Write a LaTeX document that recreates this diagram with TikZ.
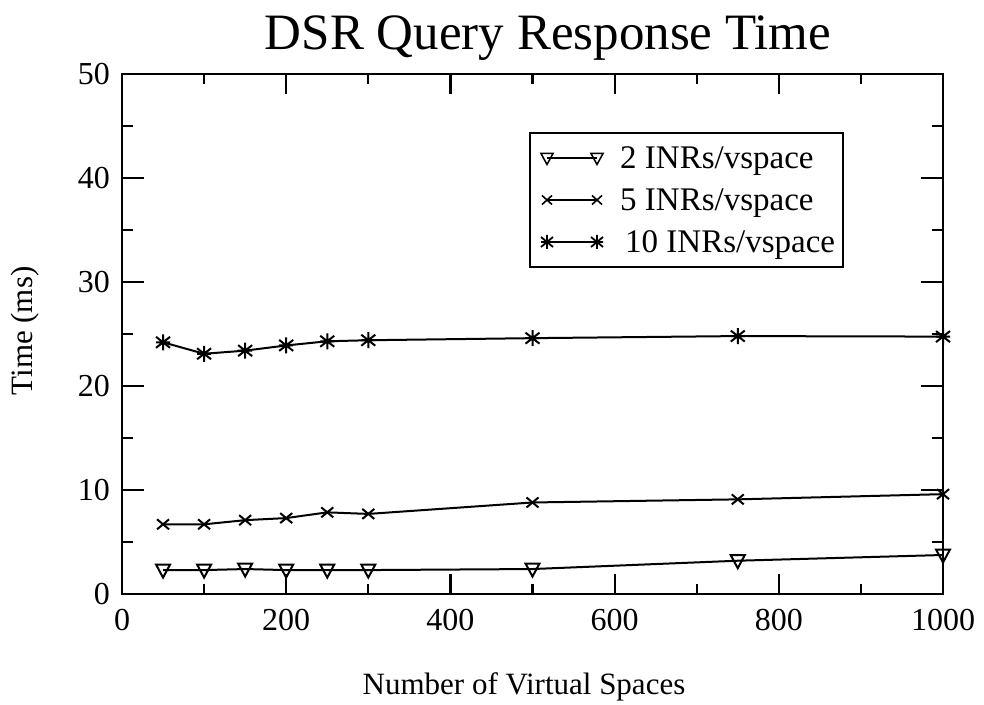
\documentclass[tikz,border=0pt]{standalone}
\usepackage{fontspec}
\setmainfont{Liberation Serif}
\begin{document}
\begin{tikzpicture}[x=1pt,y=1pt,
  axisline/.style={line width=2.6pt},
  tickline/.style={line width=2.2pt},
  dataline/.style={line width=2pt},
  markline/.style={line width=2pt},
  ticklab/.style={font=\fontsize{32}{32}\selectfont, inner sep=0pt},
  axlab/.style={font=\fontsize{31}{31}\selectfont, inner sep=0pt},
  leglab/.style={font=\fontsize{33}{33}\selectfont, inner sep=0pt, anchor=base west},
  tri/.pic={\draw[markline] (-7pt,5.5pt) -- (7pt,5.5pt) -- (0pt,-7.5pt) -- cycle;},
  crs/.pic={\draw[markline] (-6pt,-5pt) -- (6pt,5pt) (-6pt,5pt) -- (6pt,-5pt);},
  astr/.pic={\draw[markline] (0pt,-8pt) -- (0pt,8pt) (-7pt,-5.5pt) -- (7pt,5.5pt) (-7pt,5.5pt) -- (7pt,-5.5pt) (-7pt,0pt) -- (7pt,0pt);},
  ltri/.pic={\draw[line width=1.5pt] (-6pt,4.5pt) -- (6pt,4.5pt) -- (0pt,-6.5pt) -- cycle;},
  lcrs/.pic={\draw[line width=1.6pt] (-5pt,-4.5pt) -- (5pt,4.5pt) (-5pt,4.5pt) -- (5pt,-4.5pt);},
  lastr/.pic={\draw[line width=1.8pt] (0pt,-7pt) -- (0pt,7pt) (-6pt,-5pt) -- (6pt,5pt) (-6pt,5pt) -- (6pt,-5pt) (-6pt,0pt) -- (6pt,0pt);}
]
\useasboundingbox (0,0) rectangle (984,704);
% title
\node[font=\fontsize{51}{51}\selectfont, inner sep=0pt, anchor=base] (title) at (548,654) {DSR Query Response Time};
% axis titles
\node[axlab] (xlab) at (524,17) {Number of Virtual Spaces};
\node[axlab, rotate=90] (ylab) at (25,373) {Time (ms)};

\begin{scope}[shift={(122pt,110pt)}, x=0.821pt, y=10.4pt]
  % ticks
  \foreach \v in {100,300,...,900} {
    \draw[tickline] (\v,0) -- ++(0,10pt);
    \draw[tickline] (\v,50) -- ++(0,-10pt);
  }
  \foreach \v in {200,400,...,800} {
    \draw[tickline] (\v,0) -- ++(0,20pt);
    \draw[tickline] (\v,50) -- ++(0,-20pt);
  }
  \foreach \v in {0,200,...,1000} {
    \node[ticklab] (xt\v) at ([yshift=-26pt]\v,0) {\v};
  }
  \foreach \v in {5,15,...,45} {
    \draw[tickline] (0,\v) -- ++(11pt,0);
    \draw[tickline] (1000,\v) -- ++(-11pt,0);
  }
  \foreach \v in {10,20,...,40} {
    \draw[tickline] (0,\v) -- ++(22pt,0);
    \draw[tickline] (1000,\v) -- ++(-22pt,0);
  }
  \foreach \v in {0,10,...,50} {
    \node[ticklab, anchor=east] (yt\v) at ([xshift=-12pt]0,\v) {\v};
  }
  % frame
  \draw[axisline] (0,0) rectangle (1000,50);

  % series 2 INRs
  \draw[dataline] (50,2.3) -- (100,2.3) -- (150,2.4) -- (200,2.3) -- (250,2.3) -- (300,2.3) -- (500,2.4) -- (750,3.2) -- (1000,3.75);
  \foreach \a/\b in {50/2.3,100/2.3,150/2.4,200/2.3,250/2.3,300/2.3,500/2.4,750/3.2,1000/3.75}
    \pic at (\a,\b) {tri};
  % series 5 INRs
  \draw[dataline] (50,6.7) -- (100,6.7) -- (150,7.1) -- (200,7.3) -- (250,7.85) -- (300,7.7) -- (500,8.8) -- (750,9.1) -- (1000,9.6);
  \foreach \a/\b in {50/6.7,100/6.7,150/7.1,200/7.3,250/7.85,300/7.7,500/8.8,750/9.1,1000/9.6}
    \pic at (\a,\b) {crs};
  % series 10 INRs
  \draw[dataline] (50,24.2) -- (100,23.1) -- (150,23.4) -- (200,23.9) -- (250,24.3) -- (300,24.4) -- (500,24.6) -- (750,24.8) -- (1000,24.75);
  \foreach \a/\b in {50/24.2,100/23.1,150/23.4,200/23.9,250/24.3,300/24.4,500/24.6,750/24.8,1000/24.75}
    \pic at (\a,\b) {astr};
\end{scope}

% legend
\draw[line width=1.8pt] (530,437) rectangle (843,571);
\coordinate (l1a) at (547,546); \coordinate (l1b) at (597,546);
\coordinate (l2a) at (547,504); \coordinate (l2b) at (597,504);
\coordinate (l3a) at (547,462); \coordinate (l3b) at (597,462);
\draw[line width=1.5pt] (l1a) -- (l1b);
\draw[line width=1.5pt] (l2a) -- (l2b);
\draw[line width=1.5pt] (l3a) -- (l3b);
\pic at (l1a) {ltri}; \pic at (l1b) {ltri};
\pic at (l2a) {lcrs}; \pic at (l2b) {lcrs};
\pic at (l3a) {lastr}; \pic at (l3b) {lastr};
\node[leglab] (lg1) at (620,535) {2 INRs/vspace};
\node[leglab] (lg2) at (620,493) {5 INRs/vspace};
\node[leglab] (lg3) at (625,451) {10 INRs/vspace};
\end{tikzpicture}
\end{document}
